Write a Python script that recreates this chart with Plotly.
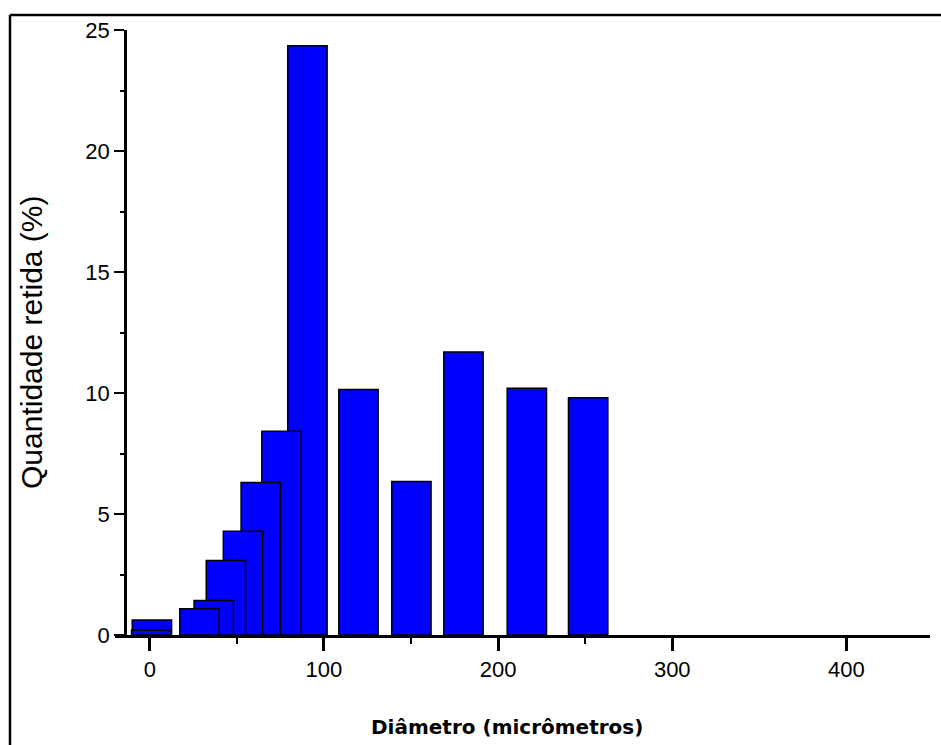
import plotly.graph_objects as go

# Data
diametro = [0.8, 1.2, 28.5, 36.7, 43.7, 53.5, 63.7, 75.6, 90.5, 119.8, 150.2, 180.1, 216.5, 251.7]
retida = [0.20, 0.62, 1.08, 1.43, 3.08, 4.29, 6.30, 8.42, 24.35, 10.14, 6.34, 11.69, 10.20, 9.80]

x_ticks = [0, 100, 200, 300, 400]
x_minor_ticks = [50, 150, 250]
y_ticks = [0, 5, 10, 15, 20, 25]

BAR_WIDTH = 22.6
W, H = 941, 745
ML, MR, MT, MB = 115, 11, 30, 110
PW = W - ML - MR
PH = H - MT - MB


def px_to_paper_x(px):
    return (px - ML) / PW


def px_to_paper_y(py):
    return (H - MB - py) / PH


# draw larger diameters first so smaller ones sit on top (as in the reference)
order = list(range(len(diametro)))[::-1]
xs = [diametro[i] for i in order]
ys = [retida[i] for i in order]

fig = go.Figure()
fig.add_trace(go.Bar(
    x=xs, y=ys, width=[BAR_WIDTH] * len(xs),
    marker=dict(color="#0000FF", line=dict(color="black", width=1.5)),
    showlegend=False,
))

tick_font = dict(family="Liberation Sans, Arial, sans-serif", size=22, color="black")

fig.update_layout(
    width=W, height=H, autosize=False,
    margin=dict(l=ML, r=MR, t=MT, b=MB, pad=0),
    paper_bgcolor="white", plot_bgcolor="white",
    barmode="overlay",
    xaxis=dict(
        range=[-20, 448], showgrid=False, zeroline=False,
        showline=True, linecolor="black", linewidth=3,
        ticks="outside", ticklen=13, tickwidth=2.5, tickcolor="black",
        tickmode="array", tickvals=x_ticks, ticktext=[str(v) for v in x_ticks],
        tickfont=tick_font,
        minor=dict(tickmode="array", tickvals=x_minor_ticks, ticks="outside",
                   ticklen=6, tickwidth=2, tickcolor="black", showgrid=False),
    ),
    yaxis=dict(
        range=[0, 25], showgrid=False, zeroline=False,
        anchor="free", position=px_to_paper_x(125),
        showline=True, linecolor="black", linewidth=2.5,
        ticks="outside", ticklen=10, tickwidth=2, tickcolor="black",
        tickmode="array", tickvals=y_ticks, ticktext=[str(v) for v in y_ticks],
        tickfont=tick_font,
        minor=dict(dtick=2.5, tick0=0, ticks="outside", ticklen=4, tickwidth=2, tickcolor="black", showgrid=False),
    ),
    annotations=[
        dict(text="Quantidade retida (%)", xref="paper", yref="paper",
             x=px_to_paper_x(31), y=px_to_paper_y(342), textangle=-90,
             showarrow=False, xanchor="center", yanchor="middle",
             font=dict(family="Liberation Sans, Arial, sans-serif", size=30, color="black")),
        dict(text="<b>Diâmetro (micrômetros)</b>", xref="paper", yref="paper",
             x=px_to_paper_x(506.5), y=px_to_paper_y(727),
             showarrow=False, xanchor="center", yanchor="middle",
             font=dict(family="DejaVu Sans, Verdana, sans-serif", size=20, color="black")),
    ],
    shapes=[
        dict(type="line", xref="paper", yref="paper",
             x0=px_to_paper_x(10), x1=px_to_paper_x(10),
             y0=px_to_paper_y(15), y1=px_to_paper_y(770),
             line=dict(color="black", width=2.5)),
        dict(type="line", xref="paper", yref="paper",
             x0=px_to_paper_x(10), x1=px_to_paper_x(960),
             y0=px_to_paper_y(15), y1=px_to_paper_y(15),
             line=dict(color="black", width=2.5)),
    ],
)

fig.write_html("out.html")
